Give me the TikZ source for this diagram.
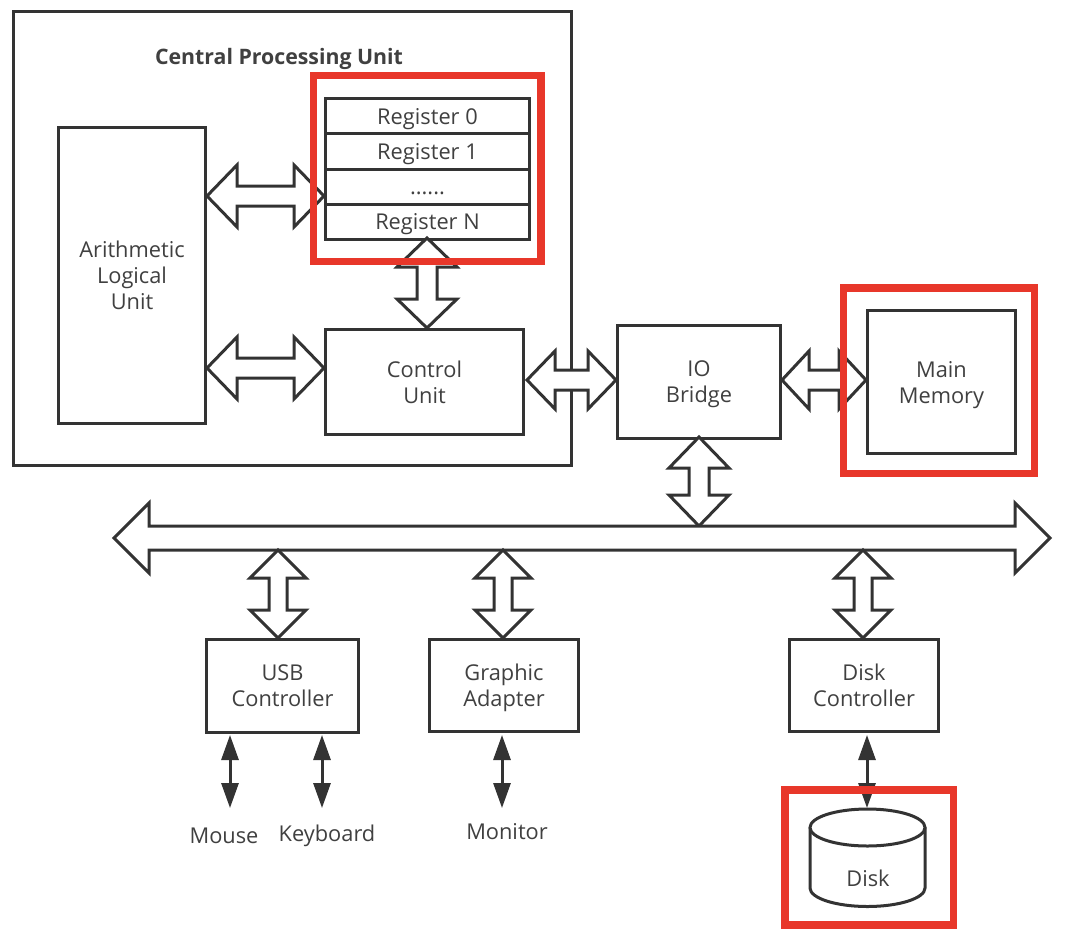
\documentclass[tikz,border=0pt]{standalone}
\usepackage{fontspec}
\setmainfont{Open Sans}
\usetikzlibrary{calc,arrows.meta}
\definecolor{ln}{HTML}{333333}
\definecolor{tx}{HTML}{404040}
\definecolor{hl}{HTML}{E8372A}
\newcommand\fs{\fontsize{21.8}{26}\selectfont}
\tikzset{
 box/.style={draw=ln, line width=3pt, fill=white, text=tx, align=center, inner sep=0pt, anchor=north west, font=\fs, text depth=0pt},
 regrow/.style={box, minimum width=204pt, minimum height=35.25pt, text height=16pt, text depth=-1pt},
 blk/.style={draw=ln, line width=3pt, fill=white, line join=miter},
 redbox/.style={draw=hl, line width=7.5pt},
 io/.style={draw=ln, line width=3pt, {Triangle[length=25pt,width=17pt]}-{Triangle[length=25pt,width=17pt]}},
 lbl/.style={text=tx, font=\fs, inner sep=0pt}
}
% horizontal block double arrow: #1 left tip, #2 right tip, #3 head length, #4 head half width, #5 shaft half width
\newcommand\harr[5]{\draw[blk] (#1) -- ($(#1)+(#3,-#4)$) -- ($(#1)+(#3,-#5)$) -- ($(#2)+(-#3,-#5)$) -- ($(#2)+(-#3,-#4)$) -- (#2) -- ($(#2)+(-#3,#4)$) -- ($(#2)+(-#3,#5)$) -- ($(#1)+(#3,#5)$) -- ($(#1)+(#3,#4)$) -- cycle;}
% vertical block double arrow: #1 top tip, #2 bottom tip
\newcommand\varr[5]{\draw[blk] (#1) -- ($(#1)+(#4,#3)$) -- ($(#1)+(#5,#3)$) -- ($(#2)+(#5,-#3)$) -- ($(#2)+(#4,-#3)$) -- (#2) -- ($(#2)+(-#4,-#3)$) -- ($(#2)+(-#5,-#3)$) -- ($(#1)+(-#5,#3)$) -- ($(#1)+(-#4,#3)$) -- cycle;}
\begin{document}
\begin{tikzpicture}[x=1pt,y=-1pt]
\useasboundingbox[fill=white] (0,0) rectangle (1068,942);
% CPU
\node[box, minimum width=558pt, minimum height=454pt] (cpu) at (12,10) {};
\node[lbl, anchor=base, font=\fontsize{21.3}{26}\selectfont\bfseries] (title) at (279,64.5) {Central Processing Unit};
\node[box, minimum width=147pt, minimum height=296pt] (alu) at (57,126) {Arithmetic\\Logical\\Unit};
\node[regrow] (r0) at (324,97) {Register 0};
\node[regrow] (r1) at (324,132.25) {Register 1};
\node[regrow] (r2) at (324,167.5) {......};
\node[regrow] (r3) at (324,202.75) {Register N};
\node[box, minimum width=198pt, minimum height=105pt] (cu) at (324,328) {Control\\Unit};
% outside
\node[box, minimum width=163pt, minimum height=113pt] (iob) at (616,324) {IO\\Bridge};
\node[box, minimum width=148pt, minimum height=143pt] (mem) at (866,309) {Main\\Memory};
\node[box, minimum width=152pt, minimum height=93pt] (usb) at (205,638) {USB\\Controller};
\node[box, minimum width=149pt, minimum height=92pt] (gfx) at (428,638) {Graphic\\Adapter};
\node[box, minimum width=149pt, minimum height=92pt] (dc) at (788,638) {Disk\\Controller};
% coordinates for block arrows
\coordinate (ar1) at (324,196); \coordinate (al1) at (alu.east |- ar1);
\coordinate (ar2) at (324,368); \coordinate (al2) at (alu.east |- ar2);
\coordinate (rt) at (427,238); \coordinate (cb) at (427,328);
\coordinate (cuR) at (527,380); \coordinate (ioL) at (iob.west |- cuR);
\coordinate (ioR) at (iob.east |- cuR); \coordinate (memL) at (mem.west |- cuR);
\coordinate (ioB) at (699,437); \coordinate (busT) at (699,526);
\coordinate (busL) at (114,538); \coordinate (busR) at (1050,538);
\coordinate (b1) at (278,550); \coordinate (u1) at (278,638);
\coordinate (b2) at (503,550); \coordinate (g1) at (503,638);
\coordinate (b3) at (863,550); \coordinate (d1) at (863,638);
\harr{al1}{ar1}{30}{31}{10}
\harr{al2}{ar2}{30}{31}{10}
\varr{rt}{cb}{29}{30}{10}
\harr{cuR}{ioL}{28}{29}{10}
\harr{ioR}{memL}{27}{29}{10}
\varr{ioB}{busT}{31}{30}{10}
\harr{busL}{busR}{35}{35}{12}
\varr{b1}{u1}{28}{28}{9}
\varr{b2}{g1}{28}{28}{9}
\varr{b3}{d1}{28}{28}{9}
% disk
\draw[draw=ln, line width=3pt, fill=white] (810,827.5) -- (810,888) arc[start angle=180, end angle=0, x radius=57.5, y radius=18.5] -- (925,827.5);
\draw[draw=ln, line width=3pt, fill=white] (867.5,827.5) ellipse [x radius=57.5, y radius=18.5];
\node[lbl] (disk) at (868,878) {Disk};
\coordinate (dtop) at (867,808);
% small I/O arrows
\node[lbl, anchor=base] (mouse) at (224,843) {Mouse};
\node[lbl, anchor=base] (kbd) at (327,841) {Keyboard};
\node[lbl, anchor=base] (mon) at (507,839) {Monitor};
\coordinate (m1) at (230,735); \coordinate (m2) at (230,808);
\coordinate (k1) at (322,735); \coordinate (k2) at (322,808);
\coordinate (n1) at (502,735); \coordinate (n2) at (502,808);
\coordinate (dk1) at (867,735);
\draw[io] (m1) -- (m2);
\draw[io] (k1) -- (k2);
\draw[io] (n1) -- (n2);
\draw[io] (dk1) -- (dtop);
% highlight boxes
\draw[redbox] (313.5,75.5) rectangle (541,261.5);
\draw[redbox] (843.5,288) rectangle (1034.5,473.5);
\draw[redbox] (785,790) rectangle (953.5,925);
\end{tikzpicture}
\end{document}
